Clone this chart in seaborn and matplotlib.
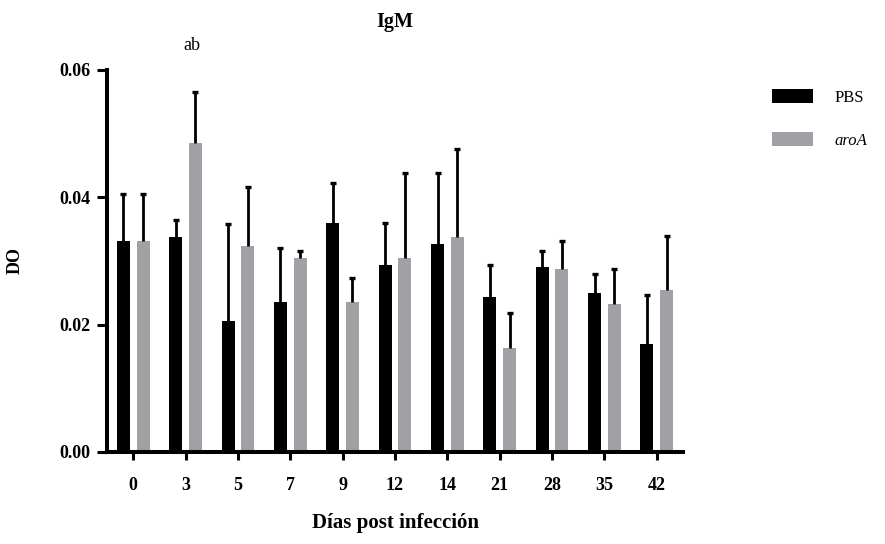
import numpy as np
import pandas as pd
import seaborn as sns
import matplotlib
matplotlib.use("Agg")
import matplotlib.pyplot as plt

# Optical density (DO) of IgM by day post infection
days = ["0", "3", "5", "7", "9", "12", "14", "21", "28", "35", "42"]
groups = ["PBS", "aroA"]
pbs_mean = [0.0331, 0.0337, 0.0205, 0.0235, 0.0360, 0.0294, 0.0326, 0.0243, 0.0290, 0.0249, 0.0169]
pbs_err = [0.0074, 0.0028, 0.0153, 0.0086, 0.0063, 0.0066, 0.0113, 0.0050, 0.0026, 0.0030, 0.0077]
aroa_mean = [0.0331, 0.0485, 0.0324, 0.0304, 0.0236, 0.0304, 0.0338, 0.0163, 0.0287, 0.0232, 0.0254]
aroa_err = [0.0074, 0.0080, 0.0093, 0.0011, 0.0038, 0.0134, 0.0138, 0.0055, 0.0044, 0.0056, 0.0086]
y_ticks = [0.00, 0.02, 0.04, 0.06]
y_tick_labels = ["0.00", "0.02", "0.04", "0.06"]
annotation_day = "3"
annotation_text = "ab"

colors = {"PBS": "#000000", "aroA": "#A1A0A5"}

df = pd.DataFrame({
    "dia": days * 2,
    "grupo": ["PBS"] * len(days) + ["aroA"] * len(days),
    "DO": pbs_mean + aroa_mean,
})
errors = {"PBS": pbs_err, "aroA": aroa_err}

sns.set_style("ticks")
plt.rcParams["font.family"] = ["Liberation Serif", "DejaVu Serif"]
plt.rcParams["text.color"] = "black"
plt.rcParams["axes.edgecolor"] = "black"
plt.rcParams["xtick.color"] = "black"
plt.rcParams["ytick.color"] = "black"
plt.rcParams["axes.labelcolor"] = "black"

fig = plt.figure(figsize=(8.85, 5.44), dpi=100)
ax = fig.add_axes([107 / 885, 92 / 544, 576 / 885, 382 / 544])

sns.barplot(data=df, x="dia", y="DO", hue="grupo", order=days, hue_order=groups,
            palette=colors, width=0.752, gap=0.34, errorbar=None,
            saturation=1, linewidth=0, ax=ax)

# upward-only error bars on top of every bar
for grp, container in zip(groups, ax.containers):
    xs = [b.get_x() + b.get_width() / 2 for b in container]
    hs = [b.get_height() for b in container]
    err = errors[grp]
    _, caps, _ = ax.errorbar(xs, hs, yerr=[np.zeros(len(err)), err], fmt="none",
                             ecolor="black", elinewidth=2.0, capsize=2.2,
                             capthick=2.4, zorder=3)
    caps[0].set_visible(False)

ax.set_ylim(0, 0.06)
ax.set_xlim(-0.5, len(days) - 0.5)
ax.set_yticks(y_ticks)
ax.set_yticklabels(y_tick_labels)
sns.despine(ax=ax)
for side in ("left", "bottom"):
    ax.spines[side].set_linewidth(2.9)
    ax.spines[side].set_color("black")
ax.tick_params(axis="y", length=7, width=2.2, pad=5, labelsize=13, colors="black")
ax.tick_params(axis="x", length=6, width=2.2, pad=12, labelsize=13, colors="black")
for lab in ax.get_xticklabels() + ax.get_yticklabels():
    lab.set_fontweight("bold")

ax.set_xlabel("Días post infección", fontsize=15, fontweight="bold")
ax.set_ylabel("DO", fontsize=13, fontweight="bold")
ax.xaxis.set_label_coords(0.5, -0.16)
ax.yaxis.set_label_coords(-0.144, 0.5)
ax.set_title("IgM", fontsize=14.5, fontweight="bold", pad=31)

# significance letters above day 3
ax.text(days.index(annotation_day) + 0.12, 0.0638, annotation_text,
        ha="center", va="center", fontsize=13, clip_on=False)

handles, labels = ax.get_legend_handles_labels()
leg = ax.legend(handles, labels, loc="upper left",
                bbox_to_anchor=(772 / 885, 1 - 89 / 544),
                bbox_transform=fig.transFigure, frameon=False,
                fontsize=12, handlelength=2.45, handleheight=0.95,
                handletextpad=1.3, labelspacing=1.55,
                borderpad=0, borderaxespad=0)
leg.get_texts()[1].set_fontstyle("italic")

fig.savefig("out.png", dpi=100)
